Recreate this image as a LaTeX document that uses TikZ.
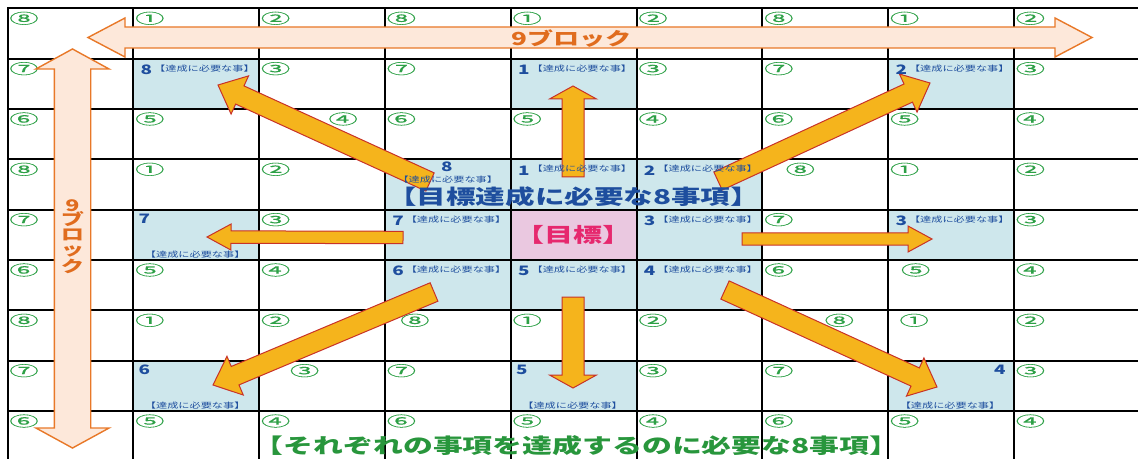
\documentclass[tikz,border=0pt]{standalone}
\usepackage{fontspec}
\usetikzlibrary{calc,backgrounds}
\newfontfamily\jpfont[FakeStretch=1.45]{Noto Sans CJK JP}
\newfontfamily\circfont[FakeStretch=2.1, FakeBold=0.4]{Noto Sans CJK JP}
\definecolor{numgreen}{RGB}{45,160,70}
\definecolor{txtblue}{RGB}{30,78,158}
\definecolor{cellblue}{RGB}{206,231,236}
\definecolor{cellpink}{RGB}{234,200,224}
\definecolor{goalred}{RGB}{230,40,110}
\definecolor{arrowgold}{RGB}{245,180,28}
\definecolor{arrowedge}{RGB}{200,50,40}
\definecolor{palefill}{RGB}{253,232,218}
\definecolor{paleedge}{RGB}{232,120,40}
\definecolor{blockorange}{RGB}{224,108,30}
\definecolor{subgreen}{RGB}{40,150,60}
% circled numbers that sit away from the cell corner
\expandafter\def\csname dx2-2\endcsname{67.5}
\expandafter\def\csname dx3-6\endcsname{21.5}
\expandafter\def\csname dx5-7\endcsname{11}
\expandafter\def\csname dx6-3\endcsname{13.5}
\expandafter\def\csname dx6-6\endcsname{60.5}
\expandafter\def\csname dx6-7\endcsname{9.5}
\expandafter\def\csname dx7-2\endcsname{29}
\newcommand\fatarrow[6][]{% tail, tip, shaft half width, head half width, head length
	\coordinate (hb) at ($(#3)!#6!(#2)$);
	\draw[#1] ($(#2)!#4!90:(#3)$) -- ($(hb)!#4!-90:(#2)$) -- ($(hb)!#5!-90:(#2)$) -- (#3) -- ($(hb)!#5!90:(#2)$) -- ($(hb)!#4!90:(#2)$) -- ($(#2)!#4!-90:(#3)$) -- cycle;}
\newcommand\fatdblarrow[6][]{%
	\coordinate (ha) at ($(#2)!#6!(#3)$); \coordinate (hb) at ($(#3)!#6!(#2)$);
	\draw[#1] (#2) -- ($(ha)!#5!90:(#3)$) -- ($(ha)!#4!90:(#3)$) -- ($(hb)!#4!-90:(#2)$) -- ($(hb)!#5!-90:(#2)$) -- (#3) -- ($(hb)!#5!90:(#2)$) -- ($(hb)!#4!90:(#2)$) -- ($(ha)!#4!-90:(#3)$) -- ($(ha)!#5!-90:(#3)$) -- cycle;}
\begin{document}
\begin{tikzpicture}[x=0.5pt, y=-0.5pt,
	cell/.style={draw=black, line width=1pt, minimum width=62.9pt, minimum height=25.17pt, inner sep=0pt, outer sep=0pt},
	circ/.style={inner sep=0pt, text=numgreen, font=\circfont\fontsize{7}{7}\selectfont},
	num/.style={inner sep=0pt, text=txtblue, font=\jpfont\bfseries\fontsize{6.5}{7}\selectfont},
	need/.style={inner sep=0pt, text=txtblue, font=\jpfont\fontsize{3.85}{4}\selectfont},
	gold/.style={fill=arrowgold, draw=arrowedge, line width=0.5pt},
	pale/.style={fill=palefill, draw=paleedge, line width=0.7pt}]
	\useasboundingbox (0,0) rectangle (1138,459); \clip (0,0) rectangle (1138,459);

	\foreach \row in {0,...,8}{\foreach \col in {0,...,8}{
		\node[cell] (c-\row-\col) at ({7.5+125.8*(\col+.5)},{8.3+50.34*(\row+.5)}) {};}}
	\begin{scope}[on background layer]
		\fill[cellblue] (c-3-3.north west) rectangle (c-5-5.south east);
		\fill[cellpink] (c-4-4.north west) rectangle (c-4-4.south east);
		\foreach \row/\col in {1/1,1/4,1/7,4/1,4/7,7/1,7/4,7/7}
			\fill[cellblue] (c-\row-\col.north west) rectangle (c-\row-\col.south east);
	\end{scope}

	\foreach \br in {0,1,2}{\foreach \bc in {0,1,2}{%
		\ifnum\numexpr3*\br+\bc\relax=4 \else
		\foreach \dr/\dc/\lab in {0/0/⑧,0/1/①,0/2/②,1/0/⑦,1/2/③,2/0/⑥,2/1/⑤,2/2/④}{%
			\pgfmathtruncatemacro\row{3*\br+\dr}\pgfmathtruncatemacro\col{3*\bc+\dc}%
			\ifcsname dx\row-\col\endcsname\edef\dx{\csname dx\row-\col\endcsname}\else\def\dx{0}\fi
			\node[circ] (l-\row-\col) at ($(c-\row-\col.north west)+(16.5+\dx,10)$) {\lab};}%
		\fi}}

	\coordinate (hl) at (88,37.5); \coordinate (hr) at (1092,37.5);
	\coordinate (vt) at (72.5,49); \coordinate (vb) at (72.5,448);
	\fatdblarrow[pale]{hl}{hr}{5.25pt}{9.75pt}{18.5pt}
	\fatdblarrow[pale]{vt}{vb}{9.1pt}{18.3pt}{10pt}
	\node[inner sep=0pt, text=blockorange, font=\jpfont\bfseries\fontsize{9}{9}\selectfont] (hlabel) at (571.5,38.5) {9ブロック};
	\node[inner sep=0pt, align=center, text=blockorange, font=\jpfont\bfseries\fontsize{8}{7.4}\selectfont] (vlabel) at (72.5,236.5) {9\\ブ\\ロ\\ッ\\ク};

	\coordinate (u0) at (573,177); \coordinate (u1) at (573,86);
	\coordinate (d0) at (573,297); \coordinate (d1) at (573,388);
	\coordinate (r0) at (742,239); \coordinate (r1) at (932,239);
	\coordinate (w0) at (403,237.5); \coordinate (w1) at (207,237);
	\coordinate (ul0) at (430,182); \coordinate (ul1) at (218,85);
	\coordinate (ur0) at (718,181); \coordinate (ur1) at (930,83);
	\coordinate (dl0) at (434,292); \coordinate (dl1) at (213,385);
	\coordinate (dr0) at (725,290); \coordinate (dr1) at (937,387);
	\fatarrow[gold]{u0}{u1}{5.5pt}{11.75pt}{6.5pt} \fatarrow[gold]{d0}{d1}{5.5pt}{11.75pt}{6.5pt}
	\fatarrow[gold]{r0}{r1}{3.1pt}{6.5pt}{12pt} \fatarrow[gold]{w0}{w1}{3.1pt}{6.5pt}{12pt}
	\foreach \a in {ul,ur,dl,dr} {\fatarrow[gold]{\a0}{\a1}{5pt}{10.5pt}{12pt}}

	\foreach \row/\col/\n in {1/1/8,1/4/1,1/7/2,3/4/1,3/5/2,4/3/7,4/5/3,4/7/3,5/3/6,5/4/5,5/5/4}{
		\node[num, anchor=base west] (n-\row-\col) at ($(c-\row-\col.north west)+(7,16)$) {\n};
		\node[need, anchor=base east] (t-\row-\col) at ($(c-\row-\col.north east)+(-4,12.5)$) {【達成に必要な事】};}
	\foreach \row/\col/\n in {4/1/7,7/1/6,7/4/5}{
		\node[num, anchor=base west] (n-\row-\col) at ($(c-\row-\col.north west)+(5,14)$) {\n};
		\node[need, anchor=base] (t-\row-\col) at ($(c-\row-\col.south)+(-1,-3)$) {【達成に必要な事】};}
	\node[num, anchor=base east] (n-7-7) at ($(c-7-7.north east)+(-8,14)$) {4};
	\node[need, anchor=base] (t-7-7) at ($(c-7-7.south)+(-1,-3)$) {【達成に必要な事】};
	\node[num, anchor=base] (n-3-3) at ($(c-3-3.north)+(-1,12.5)$) {8};
	\node[need, anchor=base] (t-3-3) at ($(c-3-3.north)+(0,23)$) {【達成に必要な事】};

	\node[inner sep=0pt, anchor=base, text=txtblue, font=\jpfont\bfseries\fontsize{10.2}{10}\selectfont] (need8) at ($(c-3-4.north)+(0,45)$) {【目標達成に必要な8事項】};
	\node[inner sep=0pt, text=goalred, font=\jpfont\bfseries\fontsize{10}{10}\selectfont] (goal) at (c-4-4) {【目標】};
	\node[inner sep=0pt, anchor=base, text=subgreen, font=\jpfont\bfseries\fontsize{10.3}{10}\selectfont] (sub8) at ($(c-8-4.north)+(3,42)$) {【それぞれの事項を達成するのに必要な8事項】};
\end{tikzpicture}
\end{document}
